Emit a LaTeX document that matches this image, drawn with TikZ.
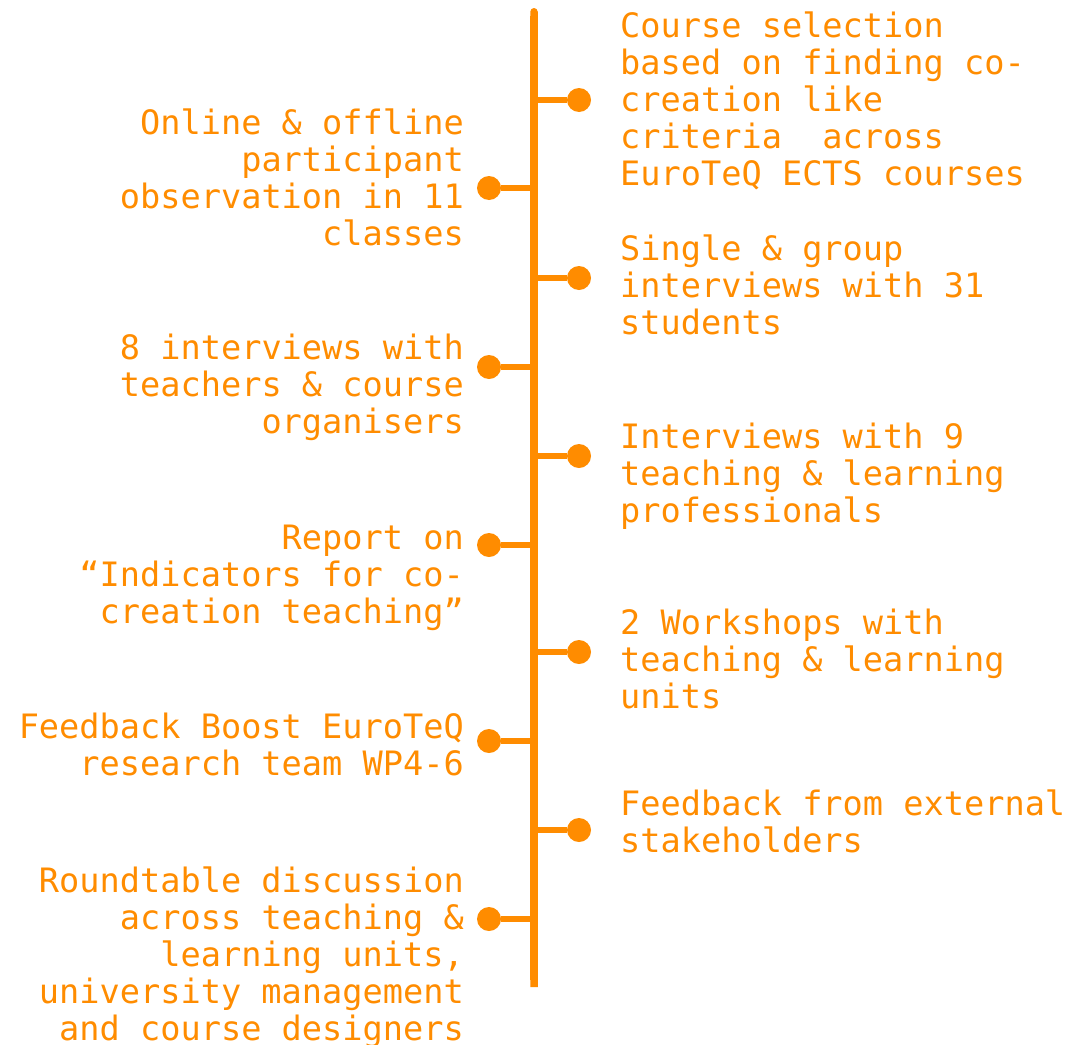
\documentclass[tikz,border=0pt]{standalone}
\usepackage{fontspec}
\setmonofont{DejaVu Sans Mono}
\usetikzlibrary{arrows.meta}
\definecolor{timeline}{RGB}{255,140,0}

\begin{document}
\begin{tikzpicture}[x=1pt,y=-1pt,
    spine/.style={draw=timeline,line width=7.5pt,{Round Cap[]}-{Butt Cap[]}},
    stub/.style={draw=timeline,line width=6.5pt},
    dot/.style={circle,fill=timeline,minimum size=24pt,inner sep=0pt},
    item/.style={inner sep=0pt,text=timeline,%
                 font=\ttfamily\fontsize{33.6}{37}\selectfont},
    rightitem/.style={item,anchor=base west,align=left},
    leftitem/.style={item,anchor=base east,align=right}
]
\useasboundingbox (0,0) rectangle (1086,1044);

% spine
\coordinate (top) at (534,8);
\coordinate (bottom) at (534,987);
\draw[spine] (top) -- (bottom);

% branch points on the spine
\coordinate (s-r1) at (534,100);
\coordinate (s-l1) at (534,188);
\coordinate (s-r2) at (534,278);
\coordinate (s-l2) at (534,367);
\coordinate (s-r3) at (534,456);
\coordinate (s-l3) at (534,545);
\coordinate (s-r4) at (534,652);
\coordinate (s-l4) at (534,741);
\coordinate (s-r5) at (534,830);
\coordinate (s-l5) at (534,919);

% dots
\node[dot] (d-r1) at (579,100) {};
\node[dot] (d-l1) at (489,188) {};
\node[dot] (d-r2) at (579,278) {};
\node[dot] (d-l2) at (489,367) {};
\node[dot] (d-r3) at (579,456) {};
\node[dot] (d-l3) at (489,545) {};
\node[dot] (d-r4) at (579,652) {};
\node[dot] (d-l4) at (489,741) {};
\node[dot] (d-r5) at (579,830) {};
\node[dot] (d-l5) at (489,919) {};

\draw[stub] (s-r1) -- (d-r1);
\draw[stub] (s-l1) -- (d-l1);
\draw[stub] (s-r2) -- (d-r2);
\draw[stub] (s-l2) -- (d-l2);
\draw[stub] (s-r3) -- (d-r3);
\draw[stub] (s-l3) -- (d-l3);
\draw[stub] (s-r4) -- (d-r4);
\draw[stub] (s-l4) -- (d-l4);
\draw[stub] (s-r5) -- (d-r5);
\draw[stub] (s-l5) -- (d-l5);

% labels (placed at the baseline of their last line)
\node[rightitem] (t-r1) at (620,185) {Course selection\\based on finding co-\\creation like\\criteria\ \ across\\EuroTeQ ECTS courses};
\node[rightitem] (t-r2) at (620,334) {Single \& group\\interviews with 31\\students};
\node[rightitem] (t-r3) at (620,522) {Interviews with 9\\teaching \& learning\\professionals};
\node[rightitem] (t-r4) at (620,708) {2 Workshops with\\teaching \& learning\\units};
\node[rightitem] (t-r5) at (620,852) {Feedback from external\\stakeholders};

\node[leftitem] (t-l1) at (464,245) {Online \& offline\\participant\\observation in 11\\classes};
\node[leftitem] (t-l2) at (464,433) {8 interviews with\\teachers \& course\\organisers};
\node[leftitem] (t-l3) at (464,623) {Report on\\“Indicators for co-\\creation teaching”};
\node[leftitem] (t-l4) at (464,775) {Feedback Boost EuroTeQ\\research team WP4-6};
\node[leftitem] (t-l5) at (464,1040) {Roundtable discussion\\across teaching \&\\learning units,\\university management\\and course designers};
\end{tikzpicture}
\end{document}
